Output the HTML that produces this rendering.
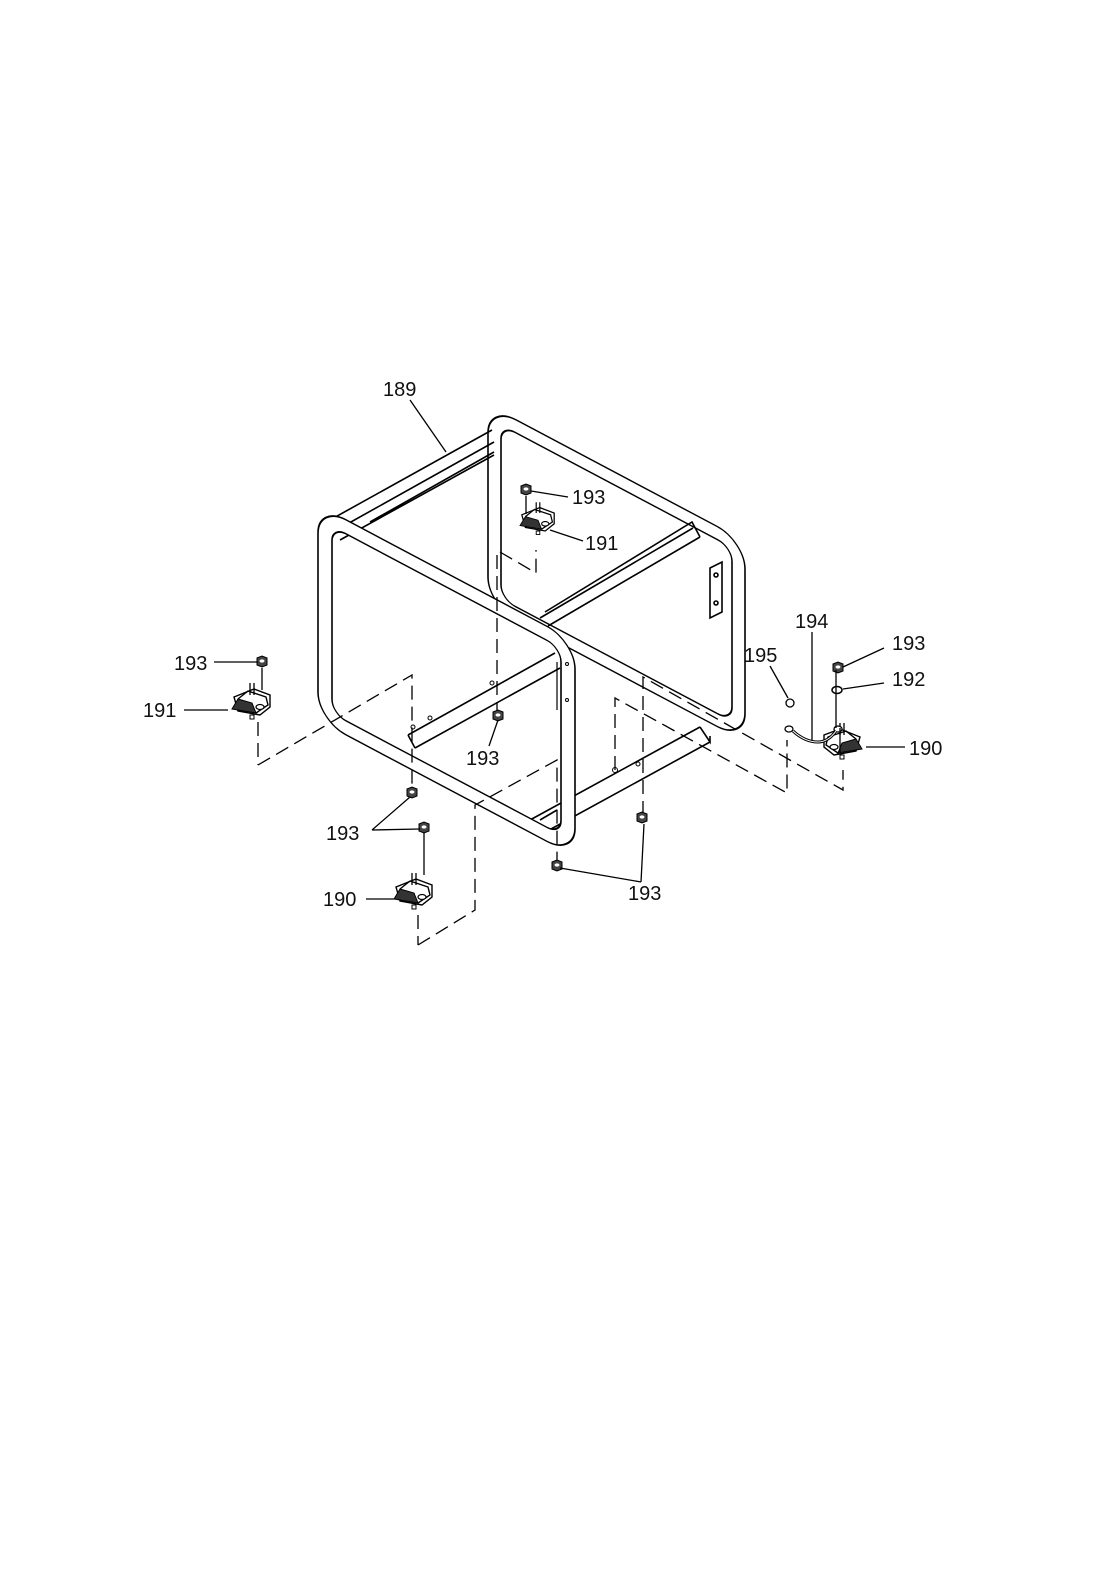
<!DOCTYPE html>
<html><head><meta charset="utf-8"><style>
html,body{margin:0;padding:0;background:#fff;}
svg{display:block}
text{font-family:"Liberation Sans","DejaVu Sans",sans-serif;font-size:20px;fill:#111}
</style></head><body>
<svg width="1100" height="1575" viewBox="0 0 1100 1575" xmlns="http://www.w3.org/2000/svg">
<defs>
<g id="mount">
 <path d="M-18,-8 L2,-16 L18,-10 L18,2 L8,10 L-14,6 Z" fill="#fff" stroke="#000" stroke-width="1.4"/>
 <path d="M-20,4 L-14,-6 L0,-2 L4,8 Z" fill="#333" stroke="#000" stroke-width="1"/>
 <path d="M-14,-6 L-4,-14 L14,-8 L16,0 L4,8" fill="none" stroke="#000" stroke-width="1.4"/>
 <ellipse cx="8" cy="2" rx="4" ry="2.5" fill="#fff" stroke="#000" stroke-width="1.2"/>
 <path d="M-2,-22 L-2,-10 M2,-22 L2,-10" stroke="#000" stroke-width="1.3"/>
 <path d="M-2,10 L2,10 L2,14 L-2,14 Z" fill="#fff" stroke="#000" stroke-width="1"/>
</g>
<g id="nut">
 <path d="M-5,-4 L0,-6 L5,-4 L5,3 L0,5 L-5,3 Z" fill="#444" stroke="#000" stroke-width="1"/>
 <ellipse cx="0" cy="-1" rx="2.5" ry="1.6" fill="#fff"/>
</g>
</defs>
<g fill="none" stroke="#000" stroke-width="1.6">
<g transform="translate(488,405) matrix(1,0.53,0,1,0,0)">
 <path fill="#fff" fill-rule="evenodd" d="M28,0 H229 A28,28 0 0 1 257,28 V172 A28,28 0 0 1 229,200 H28 A28,28 0 0 1 0,172 V28 A28,28 0 0 1 28,0Z M27,13 H230 A14,14 0 0 1 244,27 V173 A14,14 0 0 1 230,187 H27 A14,14 0 0 1 13,173 V27 A14,14 0 0 1 27,13Z"/>
</g>
<path d="M330,520 L492,430 M333,532 L494,442 M340,540 L494,455 M370,522 L494,452"/>
<path d="M540,618 L693,528 M548,626 L700,537 M545,612 L692,522 L700,537"/>
<path d="M408,735 L555,653 M415,748 L560,668 M408,735 L415,748"/>
<path d="M530,820 L700,727 M540,835 L710,742 M700,727 L710,742 L710,736"/>
<path d="M540,820 L557,810 M530,820 L545,828"/>
<path d="M710,568 L722,562 L722,612 L710,618 Z"/>
<circle cx="716" cy="575" r="2" /><circle cx="716" cy="603" r="2"/>
<g transform="translate(318,505) matrix(1,0.53,0,1,0,0)">
 <path fill="#fff" fill-rule="evenodd" d="M28,0 H229 A28,28 0 0 1 257,28 V187 A28,28 0 0 1 229,215 H28 A28,28 0 0 1 0,187 V28 A28,28 0 0 1 28,0Z M28,14 H229 A14,14 0 0 1 243,28 V187 A14,14 0 0 1 229,201 H28 A14,14 0 0 1 14,187 V28 A14,14 0 0 1 28,14Z"/>
</g>
<path d="M557,662 L557,710" stroke-width="1.2"/>
<g stroke-width="1"><circle cx="413" cy="727" r="2"/><circle cx="430" cy="718" r="2"/><circle cx="492" cy="683" r="2"/><circle cx="615" cy="770" r="2.5"/><circle cx="638" cy="764" r="2"/><circle cx="567" cy="664" r="1.5"/><circle cx="567" cy="700" r="1.5"/></g>
</g>
<g fill="none" stroke="#000" stroke-width="1.3" stroke-dasharray="14,7">
 <path d="M258,765 L412,675 L412,785"/>
 <path d="M258,722 L258,765"/>
 <path d="M418,945 L475,910 L475,805 L557,760 L557,860"/>
 <path d="M418,915 L418,945"/>
 <path d="M497,555 L497,712"/>
 <path d="M500,552 L536,573 L536,550"/>
 <path d="M615,770 L615,698 L787,793 L787,740"/>
 <path d="M643,815 L643,677 L843,790 L843,770"/>
</g>
<use href="#mount" transform="translate(252,705)"/>
<use href="#mount" transform="translate(414,895)"/>
<use href="#mount" transform="translate(538,522) scale(0.9)"/>
<use href="#mount" transform="translate(842,745) scale(-1,1)"/>
<use href="#nut" transform="translate(262,662)"/>
<use href="#nut" transform="translate(526,490)"/>
<use href="#nut" transform="translate(498,716)"/>
<use href="#nut" transform="translate(412,793)"/>
<use href="#nut" transform="translate(424,828)"/>
<use href="#nut" transform="translate(557,866)"/>
<use href="#nut" transform="translate(642,818)"/>
<use href="#nut" transform="translate(838,668)"/>
<ellipse cx="837" cy="690" rx="5" ry="3.5" fill="#fff" stroke="#000" stroke-width="1.5"/>
<circle cx="790" cy="703" r="4" fill="#fff" stroke="#000" stroke-width="1.3"/>
<ellipse cx="789" cy="729" rx="4" ry="3" fill="#fff" stroke="#000" stroke-width="1.3"/>
<ellipse cx="838" cy="729" rx="4" ry="3" fill="#fff" stroke="#000" stroke-width="1.3"/>
<path d="M793,731 Q805,742 818,742 Q828,742 836,731" fill="none" stroke="#000" stroke-width="3"/>
<path d="M793,731 Q805,742 818,742 Q828,742 836,731" fill="none" stroke="#fff" stroke-width="1"/>
<g stroke="#000" stroke-width="1.3" fill="none">
 <path d="M410,400 L446,452"/>
 <path d="M531,491 L568,497"/>
 <path d="M550,530 L583,541"/>
 <path d="M812,632 L812,740"/>
 <path d="M770,666 L788,698"/>
 <path d="M884,648 L843,667"/>
 <path d="M884,683 L843,689"/>
 <path d="M905,747 L866,747"/>
 <path d="M836,670 L836,728 M840,728 L840,752"/>
 <path d="M214,662 L258,662"/>
 <path d="M184,710 L228,710"/>
 <path d="M262,668 L262,690"/>
 <path d="M526,496 L526,514"/>
 <path d="M489,746 L498,720"/>
 <path d="M372,830 L410,797 M372,830 L420,829"/>
 <path d="M424,833 L424,875"/>
 <path d="M366,899 L394,899"/>
 <path d="M641,882 L644,824 M641,882 L560,868"/>
</g>
<text x="383" y="396">189</text>
<text x="572" y="504">193</text>
<text x="585" y="550">191</text>
<text x="795" y="628">194</text>
<text x="744" y="662">195</text>
<text x="892" y="650">193</text>
<text x="892" y="686">192</text>
<text x="909" y="755">190</text>
<text x="174" y="670">193</text>
<text x="143" y="717">191</text>
<text x="466" y="765">193</text>
<text x="326" y="840">193</text>
<text x="323" y="906">190</text>
<text x="628" y="900">193</text>
</svg>
</body></html>
